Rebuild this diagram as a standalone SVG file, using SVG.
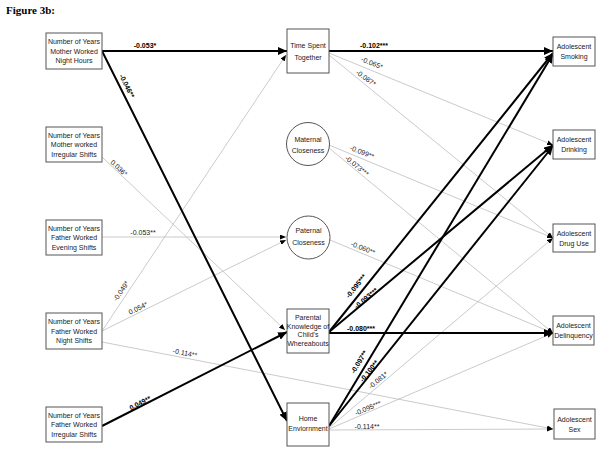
<svg xmlns="http://www.w3.org/2000/svg" width="601" height="454" viewBox="0 0 601 454">
<defs>
<style>
.box{fill:#fff;stroke:#555;stroke-width:1}
.t{font-family:"Liberation Sans",Arial,sans-serif;font-size:7px;fill:#1a1a1a;text-anchor:middle}
.lb{font-family:"Liberation Sans",Arial,sans-serif;font-size:7px;fill:#1a1a1a;text-anchor:middle}
.b{font-weight:bold;fill:#000}
.thick{stroke:#000;stroke-width:2;fill:none;marker-end:url(#ab)}
.thin{stroke:#bdbdbd;stroke-width:0.8;fill:none;marker-end:url(#as)}
</style>
<marker id="ab" markerUnits="userSpaceOnUse" markerWidth="9" markerHeight="8" refX="9" refY="4" orient="auto"><path d="M0,0 L9,4 L0,8 z" fill="#000"/></marker>
<marker id="as" markerUnits="userSpaceOnUse" markerWidth="6" markerHeight="5" refX="6" refY="2.5" orient="auto"><path d="M0,0 L6,2.5 L0,5 z" fill="#000"/></marker>
</defs>
<rect width="601" height="454" fill="#fff"/>
<text x="6" y="14" font-family="Liberation Serif,Times New Roman,serif" font-size="11" font-weight="bold">Figure 3b:</text>

<g id="connectors">
<line class="thin" x1="102" y1="157" x2="285" y2="330"/>
<line class="thin" x1="102" y1="237" x2="286" y2="237"/>
<line class="thin" x1="102" y1="331" x2="286" y2="55"/>
<line class="thin" x1="102" y1="331" x2="286" y2="240"/>
<line class="thin" x1="102" y1="342" x2="553" y2="429"/>
<line class="thin" x1="329" y1="53" x2="553" y2="145"/>
<line class="thin" x1="329" y1="55" x2="553" y2="238"/>
<line class="thin" x1="329" y1="145" x2="553" y2="238"/>
<line class="thin" x1="329" y1="148" x2="553" y2="333"/>
<line class="thin" x1="330" y1="240" x2="553" y2="333"/>
<line class="thin" x1="329" y1="428" x2="553" y2="238"/>
<line class="thin" x1="329" y1="429" x2="553" y2="333"/>
<line class="thin" x1="329" y1="430" x2="553" y2="429"/>
<line class="thick" x1="102" y1="51" x2="287" y2="51"/>
<line class="thick" x1="102" y1="51" x2="287" y2="421"/>
<line class="thick" x1="329" y1="51" x2="553" y2="51"/>
<line class="thick" x1="102" y1="426" x2="287" y2="332"/>
<line class="thick" x1="329" y1="332" x2="553" y2="53"/>
<line class="thick" x1="329" y1="332" x2="553" y2="145"/>
<line class="thick" x1="329" y1="333" x2="553" y2="333"/>
<line class="thick" x1="329" y1="426" x2="553" y2="54"/>
<line class="thick" x1="329" y1="426" x2="553" y2="146"/>

<text class="lb b" x="145" y="48">-0.053*</text>
<text class="lb b" transform="translate(127,86) rotate(63.4)" y="2.5">-0.046**</text>
<text class="lb b" x="374" y="48">-0.102***</text>
<text class="lb" transform="translate(372,63) rotate(22)" y="2.5">-0.065*</text>
<text class="lb" transform="translate(366,78) rotate(36)" y="2.5">-0.087*</text>
<text class="lb" transform="translate(362,152) rotate(22)" y="2.5">-0.099**</text>
<text class="lb" transform="translate(357,166) rotate(39)" y="2.5">-0.073***</text>
<text class="lb" transform="translate(119,168) rotate(43)" y="2.5">0.036*</text>
<text class="lb" x="143" y="234.5">-0.053**</text>
<text class="lb" transform="translate(363,248) rotate(22)" y="2.5">-0.060**</text>
<text class="lb" transform="translate(121,291) rotate(-56)" y="2.5">-0.049*</text>
<text class="lb" transform="translate(138,308) rotate(-26)" y="2.5">0.054*</text>
<text class="lb" transform="translate(185,353) rotate(11)" y="2.5">-0.114**</text>
<text class="lb b" transform="translate(140,403) rotate(-27)" y="2.5">0.049**</text>
<text class="lb b" transform="translate(356,286) rotate(-51)" y="2.5">-0.095***</text>
<text class="lb b" transform="translate(366,298) rotate(-40)" y="2.5">-0.093***</text>
<text class="lb b" x="361" y="330.5">-0.080***</text>
<text class="lb b" transform="translate(359,362) rotate(-59)" y="2.5">-0.097**</text>
<text class="lb b" transform="translate(369,371) rotate(-51)" y="2.5">-0.100**</text>
<text class="lb" transform="translate(378,380) rotate(-40)" y="2.5">-0.081*</text>
<text class="lb" transform="translate(368,408) rotate(-23)" y="2.5">-0.095***</text>
<text class="lb" x="367" y="429">-0.114**</text>
</g>

<g id="mother-night">
<rect class="box" x="46" y="33" width="56" height="36"/>
<text class="t" x="74" y="44">Number of Years</text>
<text class="t" x="74" y="53.5">Mother Worked</text>
<text class="t" x="74" y="63">Night Hours</text>
</g>
<g id="mother-irregular">
<rect class="box" x="46" y="127" width="56" height="35"/>
<text class="t" x="74" y="137.5">Number of Years</text>
<text class="t" x="74" y="147">Mother worked</text>
<text class="t" x="74" y="156.5">Irregular Shifts</text>
</g>
<g id="father-evening">
<rect class="box" x="46" y="220" width="56" height="35"/>
<text class="t" x="74" y="230.5">Number of Years</text>
<text class="t" x="74" y="240">Father Worked</text>
<text class="t" x="74" y="249.5">Evening Shifts</text>
</g>
<g id="father-night">
<rect class="box" x="46" y="313" width="56" height="36"/>
<text class="t" x="74" y="324">Number of Years</text>
<text class="t" x="74" y="333.5">Father Worked</text>
<text class="t" x="74" y="343">Night Shifts</text>
</g>
<g id="father-irregular">
<rect class="box" x="46" y="407" width="56" height="35"/>
<text class="t" x="74" y="417.5">Number of Years</text>
<text class="t" x="74" y="427">Father Worked</text>
<text class="t" x="74" y="436.5">Irregular Shifts</text>
</g>

<g id="time-spent">
<rect class="box" x="287" y="29" width="42" height="44"/>
<text class="t" x="308" y="47.8">Time Spent</text>
<text class="t" x="308" y="60">Together</text>
</g>
<g id="maternal">
<circle class="box" cx="308" cy="144" r="21.5"/>
<text class="t" x="308" y="141.5">Maternal</text>
<text class="t" x="308" y="152.5">Closeness</text>
</g>
<g id="paternal">
<circle class="box" cx="308.5" cy="237.5" r="21.5"/>
<text class="t" x="308.5" y="232.5">Paternal</text>
<text class="t" x="308.5" y="245.2">Closeness</text>
</g>
<g id="parental-knowledge">
<rect class="box" x="287" y="309" width="42" height="44"/>
<text class="t" x="308" y="319.8">Parental</text>
<text class="t" x="308" y="328.8">Knowledge of</text>
<text class="t" x="308" y="337.3">Child's</text>
<text class="t" x="308" y="345.5">Whereabouts</text>
</g>
<g id="home">
<rect class="box" x="287" y="403" width="42" height="43"/>
<text class="t" x="308" y="420.8">Home</text>
<text class="t" x="308" y="430.8">Enviornment</text>
</g>

<g id="smoking">
<rect class="box" x="553" y="37" width="42" height="29"/>
<text class="t" x="574" y="49">Adolescent</text>
<text class="t" x="574" y="58.5">Smoking</text>
</g>
<g id="drinking">
<rect class="box" x="553" y="130" width="42" height="29"/>
<text class="t" x="574" y="142">Adolescent</text>
<text class="t" x="574" y="151.5">Drinking</text>
</g>
<g id="drug-use">
<rect class="box" x="553" y="224" width="42" height="28"/>
<text class="t" x="574" y="235.5">Adolescent</text>
<text class="t" x="574" y="245.5">Drug Use</text>
</g>
<g id="delinquency">
<rect class="box" x="553" y="316" width="41" height="29"/>
<text class="t" x="573.5" y="328">Adolescent</text>
<text class="t" x="573.5" y="338">Delinquency</text>
</g>
<g id="sex">
<rect class="box" x="554" y="409" width="41" height="30"/>
<text class="t" x="574.5" y="421.5">Adolescent</text>
<text class="t" x="574.5" y="431.5">Sex</text>
</g>
</svg>
